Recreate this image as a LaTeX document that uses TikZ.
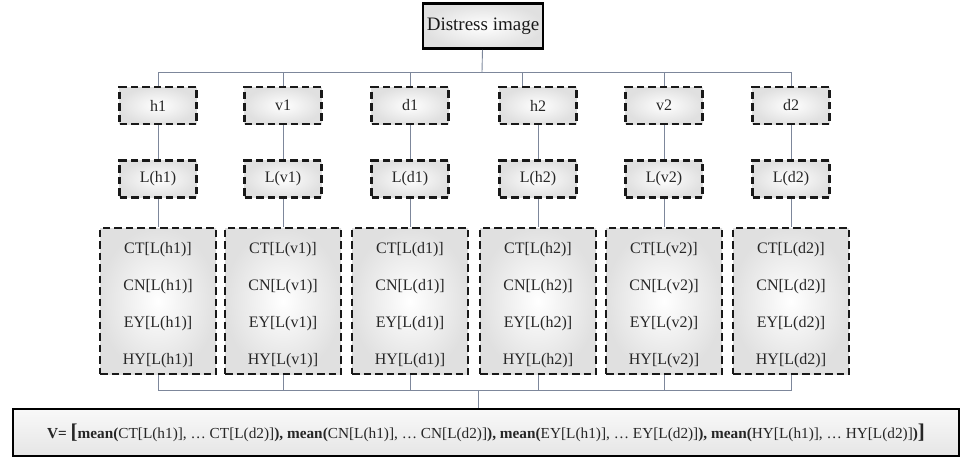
\documentclass[tikz,border=0pt]{standalone}
\usepackage{fontspec}
\setmainfont{Liberation Serif}
\definecolor{connc}{RGB}{125,135,155}
\begin{document}
\begin{tikzpicture}[x=1pt,y=-1pt,
  dbox/.style={draw=black!90, line width=2.6pt, dash pattern=on 7.5pt off 4pt,
    shading=radial, inner color=white, outer color=gray!24,
    minimum width=77pt, minimum height=37pt, inner sep=0pt,
    font=\fontsize{16}{18}\selectfont, text=black!85},
  bigbox/.style={dbox, minimum width=116pt, minimum height=146pt, align=center,
    font=\fontsize{16}{37}\selectfont},
  sbox/.style={draw=black, line width=2.6pt, shading=radial, inner color=white,
    outer color=gray!24, inner sep=0pt, text=black!90},
  cline/.style={draw=connc, line width=0.9pt}]
\useasboundingbox (0,0) rectangle (962,458);
\node[sbox, minimum width=120pt, minimum height=45pt,
  font=\fontsize{19}{21}\selectfont] (top) at (483,26) {Distress image};
\foreach \c/\x in {h1/158,v1/283,d1/410,h2/538,v2/664,d2/791}{
  \node[dbox] (\c) at (\x,105.5) {\c};
  \node[dbox] (L\c) at (\x,179) {L(\c)};
  \node[bigbox] (F\c) at (\x,301) {\rule{0pt}{20pt}CT[L(\c)]\\CN[L(\c)]\\EY[L(\c)]\\HY[L(\c)]};
  \draw[cline] (\c) -- (L\c);
  \draw[cline] (L\c) -- (F\c);
}
\node[draw=black, line width=2.6pt, top color=gray!5, bottom color=gray!20,
  minimum width=946pt, minimum height=47pt, inner sep=0pt, text=black!85,
  font=\fontsize{15.3}{17}\selectfont] (V) at (486,432.5)
  {\textbf{V= }{\fontsize{21}{21}\selectfont\textbf{[}}\textbf{mean(}CT[L(h1)], \ldots\ CT[L(d2)]\textbf{), mean(}CN[L(h1)], \ldots\ CN[L(d2)]\textbf{), mean(}EY[L(h1)], \ldots\ EY[L(d2)]\textbf{), mean(}HY[L(h1)], \ldots\ HY[L(d2)]\textbf{)}{\fontsize{21}{21}\selectfont\textbf{]}}};
\coordinate (j1) at (482,72);
\draw[cline] (top) -- (j1);
\draw[cline] (h1.north) -- (h1.north |- j1) -- (d2.north |- j1) -- (d2.north);
\foreach \c in {v1,d1,v2}{
  \draw[cline] (\c.north) -- (\c.north |- j1);
}
\draw[cline] ([xshift=-16pt]h2.north) -- ([xshift=-16pt]h2.north |- j1);
\coordinate (j2) at (478,390);
\draw[cline] (Fh1.south) -- (Fh1.south |- j2) -- (Fd2.south |- j2) -- (Fd2.south);
\foreach \c in {v1,d1,h2,v2}{
  \draw[cline] (F\c.south) -- (F\c.south |- j2);
}
\draw[cline] (j2) -- (j2 |- V.north);
\end{tikzpicture}
\end{document}
